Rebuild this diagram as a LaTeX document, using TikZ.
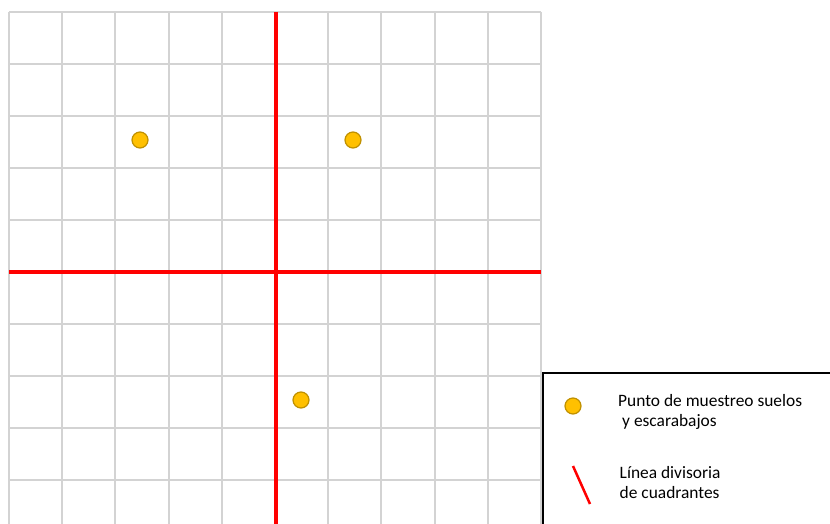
\documentclass[tikz,border=0pt]{standalone}
\usepackage{fontspec}
\setmainfont{Carlito}
\usepackage{tikz}
\usetikzlibrary{positioning}
\definecolor{gridgray}{HTML}{D3D3D3}
\definecolor{splitred}{HTML}{FF0000}
\definecolor{spotgold}{HTML}{FFC000}
\definecolor{spotedge}{HTML}{BF9000}

\begin{document}
\begin{tikzpicture}[
    x=1pt, y=-1pt,
    gridline/.style={draw=gridgray, line width=2pt},
    divider/.style={draw=splitred, line width=3.5pt},
    spot/.style={circle, fill=spotgold, draw=spotedge, line width=1.2pt,
                 minimum size=16pt, inner sep=0pt},
    legendtext/.style={anchor=north west, inner sep=0pt, align=left,
                       font=\fontsize{17.4}{19.5}\selectfont}
]
    \useasboundingbox (0,0) rectangle (830,524);
    \clip (0,0) rectangle (830,524);

    % Grid
    \foreach \i in {0,...,10}
        \draw[gridline] (9+53.2*\i,12) -- (9+53.2*\i,530);
    \foreach \j in {0,...,10}
        \draw[gridline] (9,12+52*\j) -- (541,12+52*\j);

    % Quadrant lines
    \coordinate (vtop) at (276,12);
    \coordinate (vbot) at (276,530);
    \coordinate (hleft) at (9,272);
    \coordinate (hright) at (541,272);
    \draw[divider] (vtop) -- (vbot);
    \draw[divider] (hleft) -- (hright);

    % Sampling points
    \node[spot] (p1) at (140,140) {};
    \node[spot] (p2) at (353,140) {};
    \node[spot] (p3) at (301,400) {};

    % Legend
    \draw[black, line width=2pt] (543,373) rectangle (840,540);
    \node[spot] (keyspot) at (573,406) {};
    \node[legendtext] (keyspottext) at (618,394.5) {Punto de muestreo suelos\\\hspace{4pt}y escarabajos};
    \coordinate (keya) at (573,466);
    \coordinate (keyb) at (590,504);
    \draw[draw=splitred, line width=2.5pt] (keya) -- (keyb);
    \node[legendtext] (keylinetext) at (619.5,466.5) {Línea divisoria\\de cuadrantes};
\end{tikzpicture}
\end{document}
